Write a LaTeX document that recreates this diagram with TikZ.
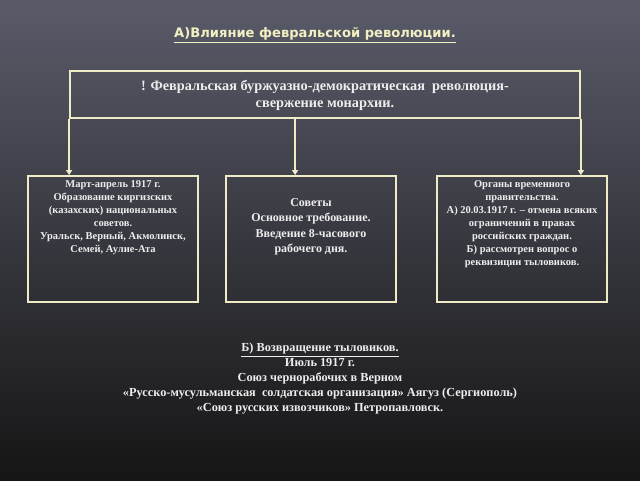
\documentclass[tikz,border=0pt]{standalone}
\usepackage{fontspec}
\setmainfont{Liberation Serif}
\newfontfamily\titlefont{DejaVu Sans}
\usetikzlibrary{arrows.meta}
\definecolor{cream}{HTML}{EEEBC6}
\definecolor{titlecol}{HTML}{F2EFC2}
\definecolor{txt}{HTML}{EDEDED}
\definecolor{bgtop}{HTML}{595B69}
\definecolor{bgbot}{HTML}{151515}
\tikzset{
  frame/.style={draw=cream, line width=1.8pt, inner sep=0pt},
  conn/.style={draw=cream, line width=1.8pt, -{Triangle[width=6pt,length=5pt]}},
  boxtext/.style={text=txt, align=center, inner sep=0pt, anchor=north, font=\bfseries\fontsize{10.5}{13}\selectfont},
}
\begin{document}
\begin{tikzpicture}[x=1pt,y=-1pt]
\shade[top color=bgtop, bottom color=bgbot] (0,0) rectangle (640,480);
\useasboundingbox (0,0) rectangle (640,480);

\node[text=titlecol, inner sep=0pt, font=\titlefont\bfseries\fontsize{13.1}{16}\selectfont] (title) at (315,35) {\underline{А)Влияние февральской революции.}};

\node[frame, minimum width=510pt, minimum height=47pt] (top) at (325,94.5) {};
\node[text=txt, align=center, inner sep=0pt, font=\bfseries\fontsize{14.3}{17}\selectfont] (toptext) at (325,95.5)
  {! Февральская буржуазно-демократическая\ \ революция-\\ свержение монархии.};

\node[frame, minimum width=170pt, minimum height=126pt] (lbox) at (113,239) {};
\node[frame, minimum width=170pt, minimum height=126pt] (mbox) at (311,239) {};
\node[frame, minimum width=170pt, minimum height=126pt] (rbox) at (522,239) {};

\node[boxtext] (ltext) at (113,180) {Март-апрель 1917 г.\\ Образование киргизских\\ (казахских) национальных\\ советов.\\ Уральск, Верный, Акмолинск,\\ Семей, Аулие-Ата};
\node[boxtext, font=\bfseries\fontsize{12}{15.3}\selectfont] (mtext) at (311,198.5) {Советы\\ Основное требование.\\ Введение 8-часового\\ рабочего дня.};
\node[boxtext] (rtext) at (522,180) {Органы временного\\ правительства.\\ А) 20.03.1917 г. – отмена всяких\\ ограничений в правах\\ российских граждан.\\ Б) рассмотрен вопрос о\\ реквизиции тыловиков.};

\coordinate (mstart) at ([xshift=226pt]top.south west);
\draw[conn] (top.south west) -- (top.south west |- lbox.north);
\draw[conn] (mstart) -- (mstart |- mbox.north);
\draw[conn] (top.south east) -- (top.south east |- rbox.north);

\node[boxtext, font=\bfseries\fontsize{12.3}{15}\selectfont] (btext) at (320,343) {\underline{Б) Возвращение тыловиков.}\\ Июль 1917 г.\\ Союз чернорабочих в Верном\\ «Русско-мусульманская\ \ солдатская организация» Аягуз (Сергиополь)\\ «Союз русских извозчиков» Петропавловск.};
\end{tikzpicture}
\end{document}
